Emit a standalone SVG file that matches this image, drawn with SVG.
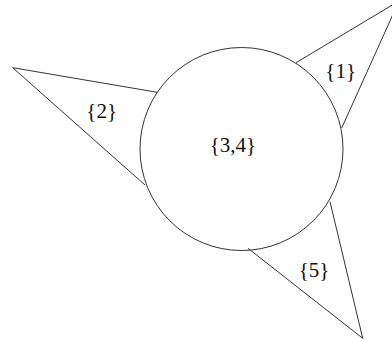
<svg xmlns="http://www.w3.org/2000/svg" width="392" height="340" viewBox="0 0 392 340">
<style>
.s{fill:none;stroke:#333;stroke-width:1}
.t{font-family:'Liberation Serif',serif;font-size:21px;fill:#111;text-anchor:middle}
</style>
<rect width="392" height="340" fill="#fff"/>
<g id="connectors">
<path class="s" d="M296,62.7 L399,1 L341.7,128"/>
<path class="s" d="M157.3,92.3 L12.7,67.7 L145,185"/>
<path class="s" d="M248,248.3 L362.7,338.3 L330,201.7"/>
</g>
<g id="node34"><circle class="s" cx="241.5" cy="149" r="101.5"/><text class="t" x="233" y="152">{3,4}</text></g>
<g id="node1"><text class="t" x="340.7" y="78">{1}</text></g>
<g id="node2"><text class="t" x="101.7" y="118">{2}</text></g>
<g id="node5"><text class="t" x="314" y="277">{5}</text></g>
</svg>
